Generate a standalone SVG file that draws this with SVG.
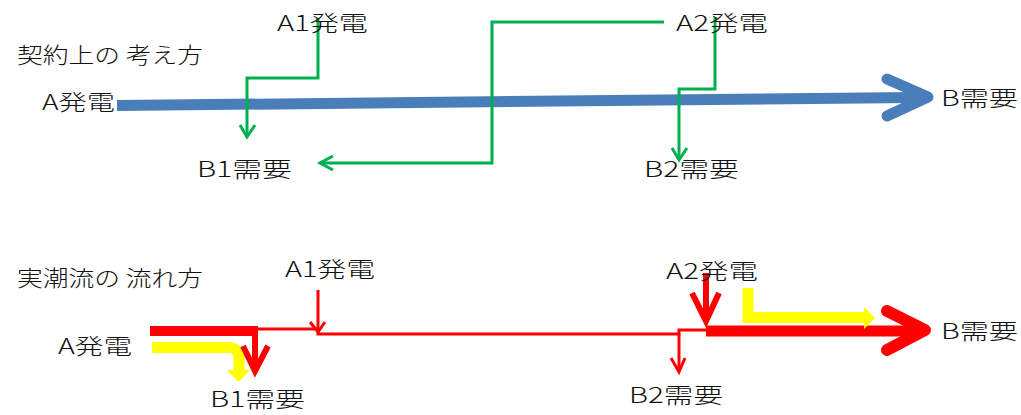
<svg xmlns="http://www.w3.org/2000/svg" width="1021" height="415" viewBox="0 0 1021 415">
<style>
text{font-family:"Noto Sans CJK JP","Noto Sans",sans-serif;font-size:22px;font-weight:300;fill:#111;}
.g{fill:none;stroke:#00B050;stroke-width:3;stroke-linejoin:miter;}
.blue{fill:none;stroke:#4A7EBB;stroke-width:11;}
.bluehead{fill:none;stroke:#4A7EBB;stroke-width:11;stroke-linecap:round;stroke-linejoin:round;}
.rt{fill:none;stroke:#FF0000;stroke-width:3;}
.rm{fill:none;stroke:#FF0000;stroke-width:6;}
.rk{fill:none;stroke:#FF0000;stroke-width:11;}
.rkh{fill:none;stroke:#FF0000;stroke-width:12;stroke-linecap:round;stroke-linejoin:round;}
.y{fill:none;stroke:#FFFF00;stroke-width:11;}
.yf{fill:#FFFF00;stroke:none;}
</style>
<rect width="1021" height="415" fill="#fff"/>
<g id="connectors">
  <!-- top: contract view -->
  <path class="blue" d="M117,105.5 L915,97.5"/>
  <path class="bluehead" d="M887,79 L928,97 L887,116"/>
  <path class="g" d="M318,18 V78 H247 V136"/>
  <path class="g" d="M240,125 L247,137 L255,125"/>
  <path class="g" d="M664,22 H492 V163 H321"/>
  <path class="g" d="M333,156 L320,163 L333,170"/>
  <path class="g" d="M715,17 V89 H679 V159"/>
  <path class="g" d="M672,148 L679,160 L687,148"/>
  <!-- bottom: actual flow -->
  <path class="y" d="M152,347.5 H228 Q239,347.5 239,359 V371"/>
  <polygon class="yf" points="227,370 250,370 238.5,382"/>
  <rect x="150" y="326" width="108" height="10" fill="#FF0000"/>
  <path class="rm" d="M255,331 V370"/>
  <path class="rm" d="M243,346 L255,371 L268,346"/>
  <path class="rt" d="M257,329 H318 V334 H679 V330 H706"/>
  <path class="rt" d="M318,290 V331"/>
  <path class="rt" d="M310,322 L318,332 L325,322"/>
  <path class="rt" d="M679,334 V371"/>
  <path class="rt" d="M671,358 L679,372 L685,358"/>
  <path class="rm" d="M706,273 V319"/>
  <path class="rm" d="M692,293 L706,321 L719,293"/>
  <path class="rk" d="M706,331 H918"/>
  <path class="rkh" d="M887,311 L925,330 L887,350"/>
  <path class="y" d="M748,288 V317.5 H864"/>
  <polygon class="yf" points="864,307 875,318 864,329"/>
</g>
<g id="title-top"><text x="17" y="63" textLength="186" lengthAdjust="spacingAndGlyphs">契約上の 考え方</text></g>
<g id="top-A1"><text x="277" y="31" textLength="91" lengthAdjust="spacingAndGlyphs">A1発電</text></g>
<g id="top-A2"><text x="676" y="31" textLength="92" lengthAdjust="spacingAndGlyphs">A2発電</text></g>
<g id="top-A"><text x="42" y="110" textLength="73" lengthAdjust="spacingAndGlyphs">A発電</text></g>
<g id="top-B1"><text x="197" y="177" textLength="95" lengthAdjust="spacingAndGlyphs">B1需要</text></g>
<g id="top-B2"><text x="644" y="177" textLength="95" lengthAdjust="spacingAndGlyphs">B2需要</text></g>
<g id="top-B"><text x="941" y="106" textLength="77" lengthAdjust="spacingAndGlyphs">B需要</text></g>
<g id="title-bottom"><text x="17" y="286" textLength="186" lengthAdjust="spacingAndGlyphs">実潮流の 流れ方</text></g>
<g id="bot-A1"><text x="285" y="277" textLength="90" lengthAdjust="spacingAndGlyphs">A1発電</text></g>
<g id="bot-A2"><text x="666" y="279" textLength="92" lengthAdjust="spacingAndGlyphs">A2発電</text></g>
<g id="bot-A"><text x="58" y="354" textLength="74" lengthAdjust="spacingAndGlyphs">A発電</text></g>
<g id="bot-B1"><text x="210" y="407" textLength="95" lengthAdjust="spacingAndGlyphs">B1需要</text></g>
<g id="bot-B2"><text x="629" y="403" textLength="94" lengthAdjust="spacingAndGlyphs">B2需要</text></g>
<g id="bot-B"><text x="941" y="339" textLength="77" lengthAdjust="spacingAndGlyphs">B需要</text></g>
</svg>
